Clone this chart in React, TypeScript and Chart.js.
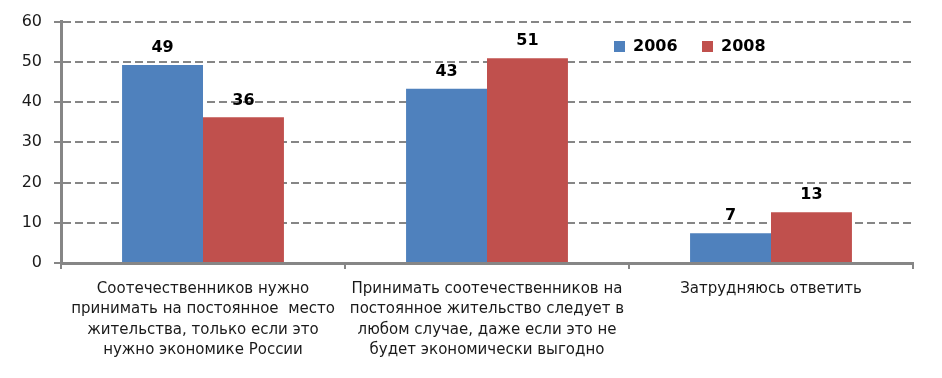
import React, { useEffect, useRef } from "react";
import { Chart, registerables } from "chart.js";

Chart.register(...registerables);

const categories: string[][] = [
  ["Соотечественников нужно", "принимать на постоянное  место", "жительства, только если это", "нужно экономике России"],
  ["Принимать соотечественников на", "постоянное жительство следует в", "любом случае, даже если это не", "будет экономически выгодно"],
  ["Затрудняюсь ответить"],
];
const seriesNames = ["2006", "2008"];
const values2006 = [49.2, 43.3, 7.4];
const values2008 = [36.2, 50.9, 12.6];
const labels2006 = [49, 43, 7];
const labels2008 = [36, 51, 13];
const colors = ["#4F81BD", "#C0504D"];
const yTicks = [0, 10, 20, 30, 40, 50, 60];

const FONT = "'DejaVu Sans', sans-serif";

const valueLabelPlugin = {
  id: "valueLabels",
  afterDatasetsDraw(chart: any) {
    const ctx = chart.ctx;
    const lbls = [labels2006, labels2008];
    ctx.save();
    ctx.font = `bold 16px ${FONT}`;
    ctx.fillStyle = "#000";
    ctx.textAlign = "center";
    ctx.textBaseline = "middle";
    chart.data.datasets.forEach((ds: any, i: number) => {
      const meta = chart.getDatasetMeta(i);
      meta.data.forEach((bar: any, j: number) => {
        ctx.fillText(String(lbls[i][j]), bar.x, bar.y - 17);
      });
    });
    ctx.restore();
  },
};

const legendPlugin = {
  id: "insideLegend",
  afterDraw(chart: any) {
    const ctx = chart.ctx;
    ctx.save();
    ctx.font = `bold 16px ${FONT}`;
    ctx.textBaseline = "middle";
    ctx.textAlign = "left";
    let x = 614;
    const y = 46;
    chart.data.datasets.forEach((ds: any) => {
      ctx.fillStyle = ds.backgroundColor;
      ctx.fillRect(x, y - 5, 11, 11);
      ctx.fillStyle = "#000";
      ctx.fillText(ds.label, x + 19, y + 1);
      x += 88;
    });
    ctx.restore();
  },
};

export default function App() {
  const ref = useRef<HTMLCanvasElement>(null);
  useEffect(() => {
    document.body.style.margin = "0";
    const chart = new Chart(ref.current!, {
      type: "bar",
      data: {
        labels: categories,
        datasets: [
          { label: seriesNames[0], data: values2006, backgroundColor: colors[0], borderWidth: 0 },
          { label: seriesNames[1], data: values2008, backgroundColor: colors[1], borderWidth: 0 },
        ],
      },
      options: {
        animation: false,
        responsive: false,
        maintainAspectRatio: false,
        devicePixelRatio: 1,
        layout: { padding: { top: 19, right: 29, left: 0, bottom: 0 } },
        datasets: { bar: { categoryPercentage: 0.57, barPercentage: 1 } },
        plugins: { legend: { display: false }, tooltip: { enabled: false } },
        scales: {
          x: {
            grid: {
              offset: true,
              drawOnChartArea: false,
              drawTicks: true,
              tickLength: 6,
              color: "#868686",
              lineWidth: 2,
            },
            border: { color: "#868686", width: 3 },
            ticks: {
              color: "#1a1a1a",
              font: { family: FONT, size: 15, lineHeight: 1.35 },
              padding: 10,
              maxRotation: 0,
              autoSkip: false,
            },
            afterFit: (s: any) => { s.height = 115; },
          },
          y: {
            min: 0,
            max: 60,
            afterBuildTicks: (s: any) => { s.ticks = yTicks.map((v) => ({ value: v })); },
            grid: {
              color: "#868686",
              lineWidth: 2,
              tickLength: 7,
              drawTicks: true,
              tickBorderDash: [],
            },
            border: { color: "#868686", width: 3, dash: [8, 4] },
            ticks: {
              color: "#1a1a1a",
              font: { family: FONT, size: 16 },
              padding: 12,
            },
            afterFit: (s: any) => { s.width = 61; },
          },
        },
      } as any,
      plugins: [valueLabelPlugin, legendPlugin],
    });
    return () => chart.destroy();
  }, []);
  return (
    <div style={{ width: 942, height: 378 }}>
      <canvas ref={ref} width={942} height={378} style={{ width: 942, height: 378 }} />
    </div>
  );
}
